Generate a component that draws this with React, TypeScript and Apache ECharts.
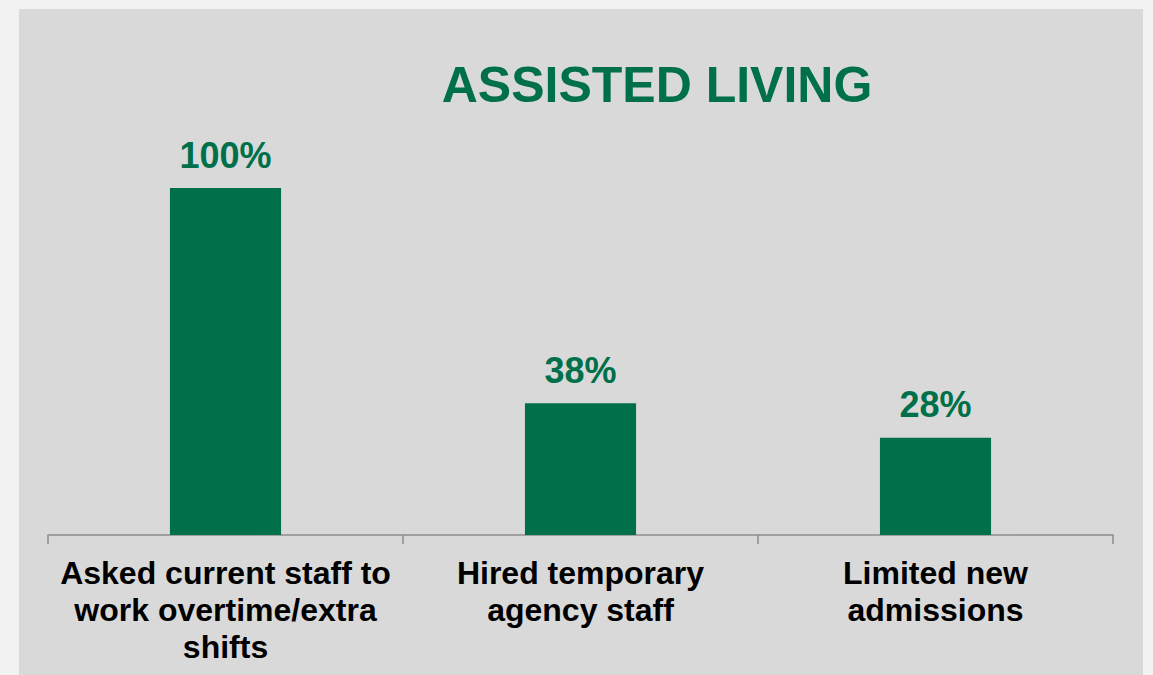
import React, { useEffect, useRef } from "react";
import * as echarts from "echarts";

const categories = [
  "Asked current staff to\nwork overtime/extra\nshifts",
  "Hired temporary\nagency staff",
  "Limited new\nadmissions",
];
const values = [100, 38, 28];
const chartTitle = "ASSISTED LIVING";

const GREEN = "#00704a";

export default function App() {
  const ref = useRef<HTMLDivElement>(null);
  useEffect(() => {
    if (!ref.current) return;
    const chart = echarts.init(ref.current, undefined, { renderer: "svg" });
    chart.setOption({
      animation: false,
      backgroundColor: "#f2f2f2",
      graphic: [
        {
          type: "rect",
          z: -10,
          silent: true,
          shape: { x: 19, y: 9, width: 1124, height: 680 },
          style: { fill: "#d9d9d9" },
        },
        {
          type: "text",
          x: 657,
          y: 60,
          style: {
            text: chartTitle,
            fill: GREEN,
            font: "bold 50px 'Liberation Sans', Arial, sans-serif",
            textAlign: "center",
            textVerticalAlign: "top",
          },
        },
      ],
      grid: { left: 48, right: 40, top: 188, bottom: 140 },
      xAxis: {
        type: "category",
        data: categories,
        axisLine: { lineStyle: { color: "#8c8c8c", width: 1.5 } },
        axisTick: { show: true, length: 9, lineStyle: { color: "#8c8c8c", width: 1.5 } },
        axisLabel: {
          color: "#000",
          fontFamily: "'Liberation Sans', Arial, sans-serif",
          fontWeight: "bold",
          fontSize: 32,
          lineHeight: 37,
          margin: 19,
          interval: 0,
          align: "center",
        },
      },
      yAxis: { type: "value", min: 0, max: 100, show: false, splitLine: { show: false } },
      series: [
        {
          type: "bar",
          data: values,
          barWidth: "31.3%",
          itemStyle: { color: GREEN },
          label: {
            show: true,
            position: "top",
            distance: 15,
            formatter: "{c}%",
            color: GREEN,
            fontFamily: "'Liberation Sans', Arial, sans-serif",
            fontWeight: "bold",
            fontSize: 36,
          },
        },
      ],
    });
    return () => chart.dispose();
  }, []);
  return (
    <div
      ref={ref}
      style={{ position: "fixed", left: 0, top: 0, width: 1153, height: 675 }}
    />
  );
}
